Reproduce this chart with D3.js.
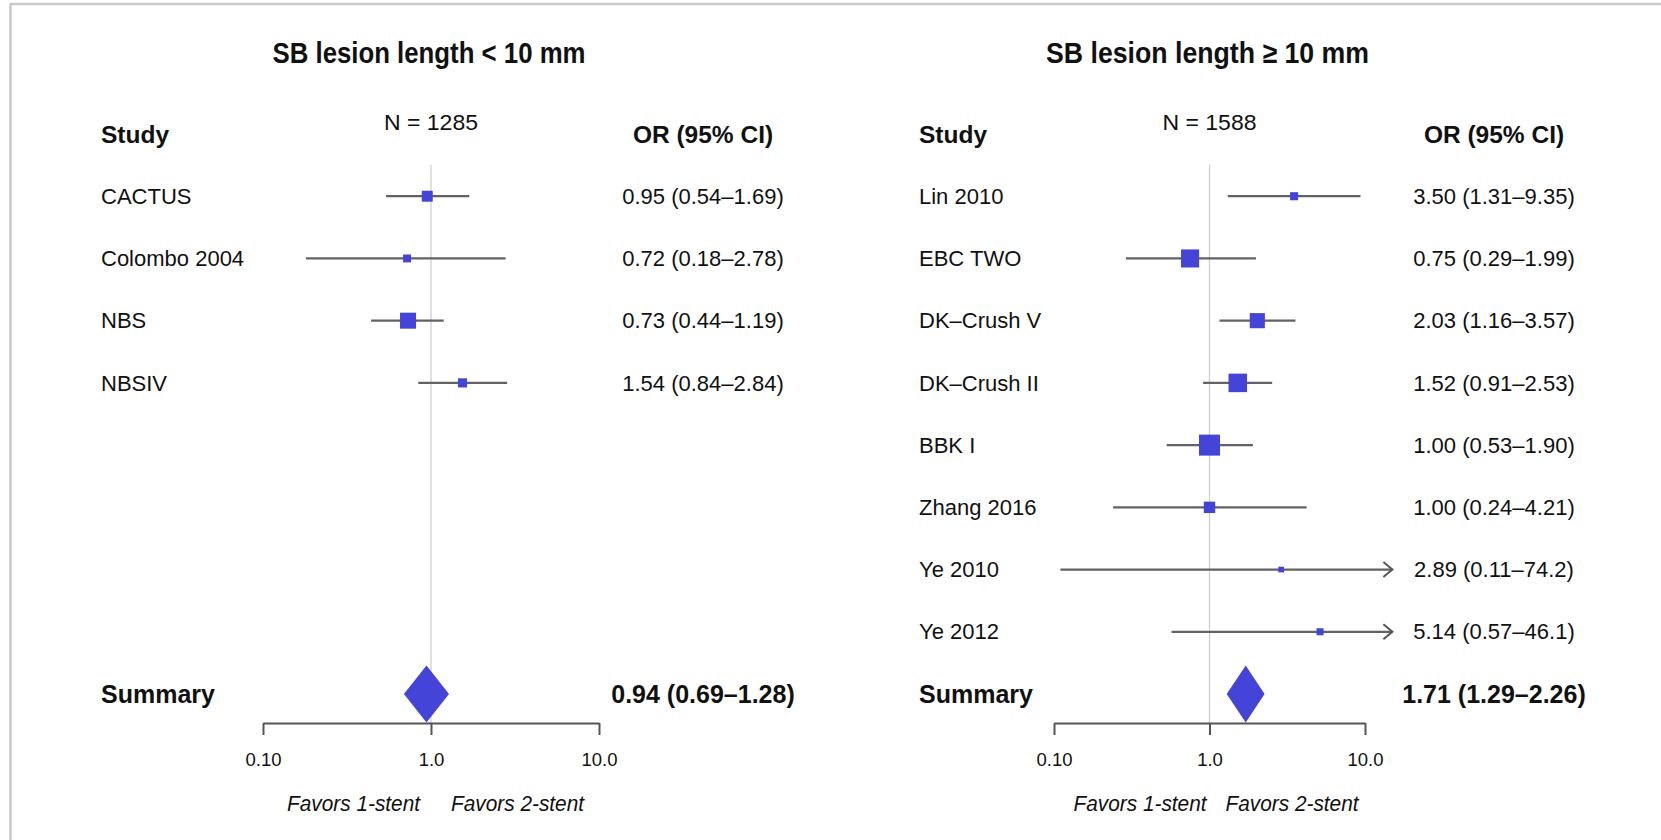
<!DOCTYPE html>
<html><head><meta charset="utf-8">
<script src="https://cdn.jsdelivr.net/npm/d3@7"></script>
<style>
html,body{margin:0;padding:0;background:#fff;}
svg{display:block;}
text{font-family:"Liberation Sans",Arial,Helvetica,sans-serif;fill:#111;}
</style></head>
<body>
<svg id="chart" width="1661" height="840"></svg>
<script>
// ---------- data ----------
const titleL = "SB lesion length < 10 mm";
const titleR = "SB lesion length \u2265 10 mm";
const nLabelL = "N = 1285";
const nLabelR = "N = 1588";

const studiesL = ["CACTUS", "Colombo 2004", "NBS", "NBSIV"];
const orL  = [0.95, 0.72, 0.73, 1.54];
const loL  = [0.54, 0.18, 0.44, 0.84];
const hiL  = [1.69, 2.78, 1.19, 2.84];
const wL   = [23, 12, 49, 16];
const ciTextL = ["0.95 (0.54\u20131.69)", "0.72 (0.18\u20132.78)", "0.73 (0.44\u20131.19)", "1.54 (0.84\u20132.84)"];
const sumL = {or: 0.94, lo: 0.69, hi: 1.28, text: "0.94 (0.69\u20131.28)"};

const studiesR = ["Lin 2010", "EBC TWO", "DK\u2013Crush V", "DK\u2013Crush II", "BBK I", "Zhang 2016", "Ye 2010", "Ye 2012"];
const orR  = [3.50, 0.75, 2.03, 1.52, 1.00, 1.00, 2.89, 5.14];
const loR  = [1.31, 0.29, 1.16, 0.91, 0.53, 0.24, 0.11, 0.57];
const hiR  = [9.35, 1.99, 3.57, 2.53, 1.90, 4.21, 74.2, 46.1];
const wR   = [4, 20, 14, 21, 27, 8, 2, 3];
const ciTextR = ["3.50 (1.31\u20139.35)", "0.75 (0.29\u20131.99)", "2.03 (1.16\u20133.57)", "1.52 (0.91\u20132.53)",
                 "1.00 (0.53\u20131.90)", "1.00 (0.24\u20134.21)", "2.89 (0.11\u201374.2)", "5.14 (0.57\u201346.1)"];
const sumR = {or: 1.71, lo: 1.29, hi: 2.26, text: "1.71 (1.29\u20132.26)"};

const tickValues = [0.1, 1, 10];
const tickLabels = ["0.10", "1.0", "10.0"];
const favorsLeft = "Favors 1-stent";
const favorsRight = "Favors 2-stent";
const clipMax = 15;

// ---------- styles ----------
const BLUE = "#4444d8";
const svg = d3.select("#chart");

// frame
svg.append("line").attr("x1", 10).attr("x2", 1661).attr("y1", 4).attr("y2", 4)
  .attr("stroke", "#c9c9c9").attr("stroke-width", 2.5);
svg.append("line").attr("x1", 10.5).attr("x2", 10.5).attr("y1", 4).attr("y2", 840)
  .attr("stroke", "#c9c9c9").attr("stroke-width", 2.5);

const y = d3.scaleLinear().domain([-1, 8]).range([134, 694]);
const axisY = 723;

function panel(cfg) {
  const g = svg.append("g");
  const x = d3.scaleLog().domain([0.1, 10]).range(cfg.xRange);
  const box = d3.scaleSqrt().domain([0, d3.max(cfg.w)]).range([0, cfg.maxBox]);
  const x1 = x(1);

  // title
  g.append("text").attr("x", x1 - 2).attr("y", 63).attr("text-anchor", "middle")
    .style("font-family", "'Liberation Sans Narrow','Arial Narrow','Liberation Sans',sans-serif")
    .style("font-weight", "bold").style("font-size", "29.5px")
    .attr("textLength", cfg.titleW).attr("lengthAdjust", "spacingAndGlyphs")
    .text(cfg.title);

  // N label
  g.append("text").attr("x", x1).attr("y", 122).attr("dy", "0.35em").attr("text-anchor", "middle")
    .style("font-size", "22.5px").attr("textLength", 94).attr("lengthAdjust", "spacingAndGlyphs")
    .text(cfg.nLabel);

  // headers
  g.append("text").attr("x", cfg.nameX).attr("y", y(-1)).attr("dy", "0.35em")
    .style("font-weight", "bold").style("font-size", "24.5px").text("Study");
  g.append("text").attr("x", cfg.valX).attr("y", y(-1)).attr("dy", "0.35em").attr("text-anchor", "middle")
    .style("font-weight", "bold").style("font-size", "24.5px").text("OR (95% CI)");

  // reference line
  g.append("line").attr("x1", x1).attr("x2", x1).attr("y1", 165).attr("y2", axisY)
    .attr("stroke", "#cfcfcf").attr("stroke-width", 1.3);

  const rows = cfg.studies.map((s, i) => ({s, or: cfg.or[i], lo: cfg.lo[i], hi: cfg.hi[i], w: cfg.w[i], t: cfg.ciText[i], i}));

  const rg = g.selectAll("g.row").data(rows).join("g").attr("class", "row");
  rg.append("text").attr("x", cfg.nameX).attr("y", d => y(d.i)).attr("dy", "0.35em")
    .style("font-size", "22px").text(d => d.s);
  rg.append("text").attr("x", cfg.valX).attr("y", d => y(d.i)).attr("dy", "0.35em").attr("text-anchor", "middle")
    .style("font-size", "22px").text(d => d.t);
  rg.append("line")
    .attr("x1", d => x(d.lo)).attr("x2", d => x(Math.min(d.hi, clipMax)))
    .attr("y1", d => y(d.i)).attr("y2", d => y(d.i))
    .attr("stroke", "#626262").attr("stroke-width", 2.2);
  rg.filter(d => d.hi > clipMax).append("path")
    .attr("d", d => { const tx = x(clipMax), ty = y(d.i); return `M${tx-9},${ty-7.5}L${tx},${ty}L${tx-9},${ty+7.5}`; })
    .attr("fill", "none").attr("stroke", "#555").attr("stroke-width", 2);
  rg.append("rect")
    .attr("x", d => x(d.or) - box(d.w) / 2).attr("y", d => y(d.i) - box(d.w) / 2)
    .attr("width", d => box(d.w)).attr("height", d => box(d.w))
    .attr("fill", BLUE);

  // summary
  const sy = y(8);
  g.append("text").attr("x", cfg.nameX).attr("y", sy).attr("dy", "0.35em")
    .style("font-weight", "bold").style("font-size", "25px").text("Summary");
  g.append("text").attr("x", cfg.valX).attr("y", sy).attr("dy", "0.35em").attr("text-anchor", "middle")
    .style("font-weight", "bold").style("font-size", "25px").text(cfg.sum.text);
  const h = 28.5;
  g.append("path")
    .attr("d", `M${x(cfg.sum.lo)},${sy}L${x(cfg.sum.or)},${sy-h}L${x(cfg.sum.hi)},${sy}L${x(cfg.sum.or)},${sy+h}Z`)
    .attr("fill", BLUE);

  // axis
  const ax = g.append("g").attr("transform", `translate(0,${axisY})`)
    .call(d3.axisBottom(x).tickValues(tickValues).tickFormat((d, i) => tickLabels[i])
      .tickSize(12).tickSizeOuter(0).tickPadding(18));
  ax.select(".domain").attr("stroke", "#555").attr("stroke-width", 2);
  ax.selectAll(".tick line").attr("stroke", "#555").attr("stroke-width", 2);
  ax.selectAll(".tick text").style("font-family", "'Liberation Sans',Arial,sans-serif")
    .style("font-size", "18.5px").attr("fill", "#222");

  // favors
  const fy = 803;
  g.append("text").attr("x", x1 - cfg.favGapL).attr("y", fy).attr("dy", "0.35em").attr("text-anchor", "end")
    .style("font-family", "'Liberation Sans Narrow','Arial Narrow','Liberation Sans',sans-serif")
    .style("font-style", "italic").style("font-size", "22px")
    .attr("textLength", 133).attr("lengthAdjust", "spacingAndGlyphs").text(favorsLeft);
  g.append("text").attr("x", x1 + cfg.favGapR).attr("y", fy).attr("dy", "0.35em").attr("text-anchor", "start")
    .style("font-family", "'Liberation Sans Narrow','Arial Narrow','Liberation Sans',sans-serif")
    .style("font-style", "italic").style("font-size", "22px")
    .attr("textLength", 133).attr("lengthAdjust", "spacingAndGlyphs").text(favorsRight);
}

panel({title: titleL, titleW: 313, nLabel: nLabelL, xRange: [263, 599], nameX: 101, valX: 703,
  studies: studiesL, or: orL, lo: loL, hi: hiL, w: wL, ciText: ciTextL, sum: sumL, maxBox: 16,
  favGapL: 11, favGapR: 20});
panel({title: titleR, titleW: 323, nLabel: nLabelR, xRange: [1054, 1365], nameX: 919, valX: 1494,
  studies: studiesR, or: orR, lo: loR, hi: hiR, w: wR, ciText: ciTextR, sum: sumR, maxBox: 21,
  favGapL: 3, favGapR: 16});
</script>
</body></html>
